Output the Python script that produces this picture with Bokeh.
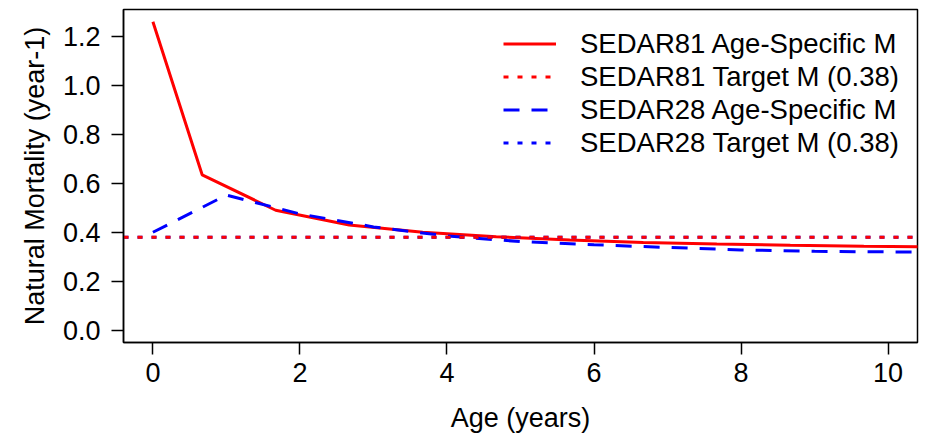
from bokeh.plotting import figure
from bokeh.models import Legend, LegendItem, Range1d, FixedTicker
from bokeh.embed import file_html
from bokeh.resources import INLINE

# Age-specific natural mortality, SEDAR81
ages_s81 = [0, 0.67, 1.67, 2.67, 3.67, 4.67, 5.67, 6.67, 7.67, 8.67, 9.67, 10.67]
m_s81 = [1.26, 0.635, 0.49, 0.43, 0.40, 0.382, 0.368, 0.358, 0.352, 0.347, 0.343, 0.340]

# Age-specific natural mortality, SEDAR28
ages_s28 = [0, 1, 2, 3, 4, 5, 6, 7, 8, 9, 10, 11]
m_s28 = [0.40, 0.552, 0.475, 0.422, 0.385, 0.362, 0.349, 0.338, 0.328, 0.322, 0.320, 0.319]

# Target M for both assessments
target_s81 = 0.38
target_s28 = 0.38

x_lim = (-0.4, 10.4)
y_lim = (-0.0504, 1.3104)
x_ticks = [0, 2, 4, 6, 8, 10]
y_ticks = [0.0, 0.2, 0.4, 0.6, 0.8, 1.0, 1.2]

FONT = "Liberation Sans"

p = figure(width=925, height=436, output_backend="svg", toolbar_location=None,
           x_range=Range1d(*x_lim), y_range=Range1d(*y_lim))
p.min_border_left = 123
p.min_border_right = 8
p.min_border_top = 9
p.min_border_bottom = 94
p.background_fill_color = "white"
p.border_fill_color = "white"
p.outline_line_color = "black"
p.outline_line_width = 1.5
p.grid.visible = False

p.xaxis.ticker = FixedTicker(ticks=x_ticks)
p.yaxis.ticker = FixedTicker(ticks=y_ticks)
p.yaxis.major_label_overrides = {v: f"{v:.1f}" for v in y_ticks}
p.xaxis.axis_label = "Age (years)"
p.yaxis.axis_label = "Natural Mortality (year-1)"
for ax in (p.xaxis[0], p.yaxis[0]):
    ax.major_tick_out = 12
    ax.major_tick_in = 0
    ax.minor_tick_out = 0
    ax.minor_tick_in = 0
    ax.major_tick_line_color = "black"
    ax.major_tick_line_width = 1.5
    ax.axis_line_color = "black"
    ax.axis_line_width = 1.5
    ax.major_label_text_font = FONT
    ax.major_label_text_font_size = "27px"
    ax.major_label_text_color = "black"
    ax.axis_label_text_font = FONT
    ax.axis_label_text_font_size = "27px"
    ax.axis_label_text_font_style = "normal"
    ax.axis_label_text_color = "black"
p.xaxis.major_label_standoff = 8
p.xaxis.axis_label_standoff = 18
p.yaxis.major_label_standoff = 11
p.yaxis.major_label_orientation = "horizontal"
p.yaxis.axis_label_standoff = 10

r81 = p.line(ages_s81, m_s81, line_color="red", line_width=3)
r28 = p.line(ages_s28, m_s28, line_color="blue", line_width=3, line_dash="16 12")
t28 = p.line(list(x_lim), [target_s28, target_s28], line_color="blue", line_width=3,
             line_dash="5 9")
t81 = p.line(list(x_lim), [target_s81, target_s81], line_color="red", line_width=3,
             line_dash="5 9")

legend = Legend(items=[
    LegendItem(label="SEDAR81 Age-Specific M", renderers=[r81]),
    LegendItem(label="SEDAR81 Target M (0.38)", renderers=[t81]),
    LegendItem(label="SEDAR28 Age-Specific M", renderers=[r28]),
    LegendItem(label="SEDAR28 Target M (0.38)", renderers=[t28]),
], location=(380, 183))
legend.margin = 0
legend.padding = 0
legend.spacing = 0
legend.glyph_width = 53
legend.glyph_height = 33
legend.label_height = 33
legend.label_standoff = 24
legend.label_text_font = FONT
legend.label_text_font_size = "27.5px"
legend.label_text_color = "black"
legend.border_line_alpha = 0
legend.background_fill_alpha = 0
p.add_layout(legend)

open("out.html", "w").write(file_html(p, INLINE))
